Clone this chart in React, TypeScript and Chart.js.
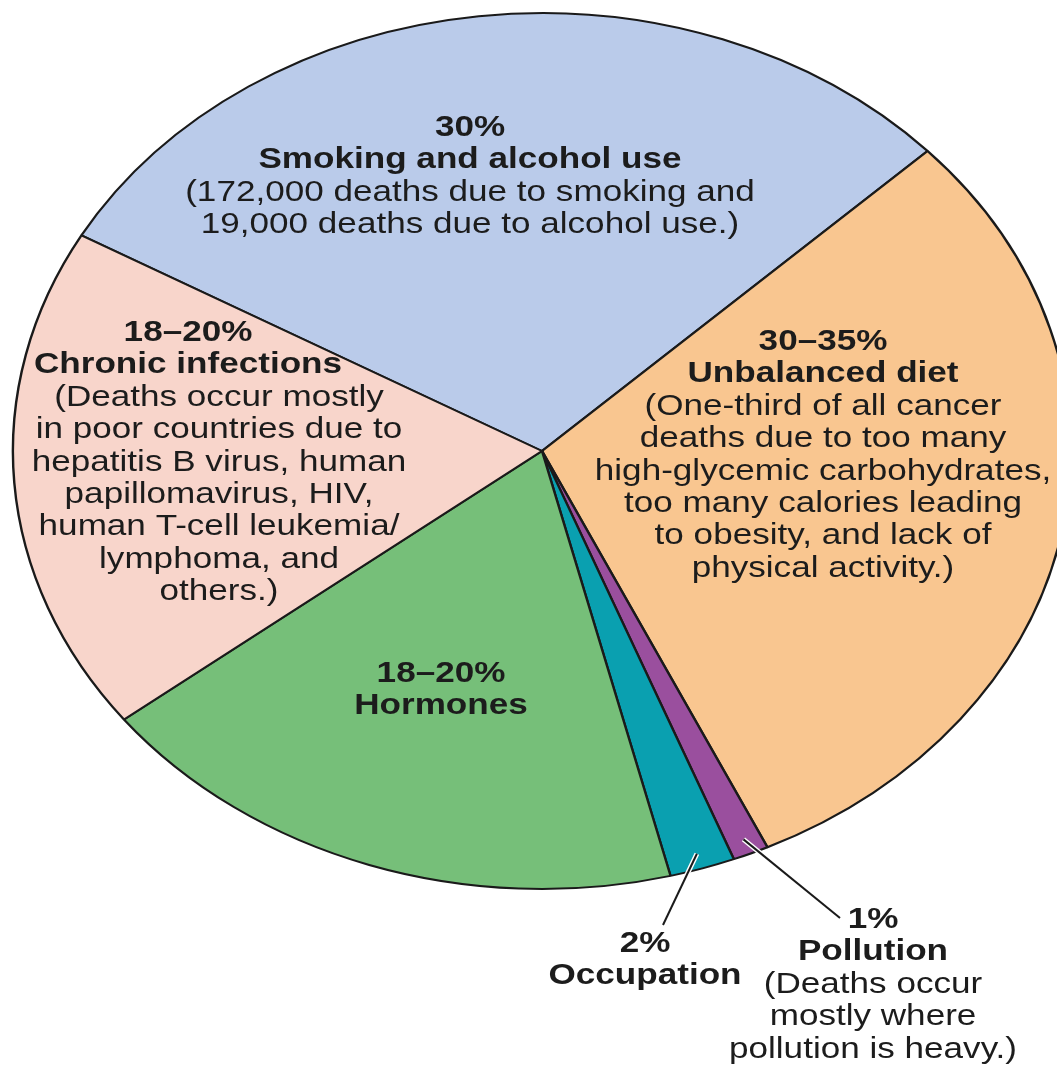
import React, { useEffect, useRef } from 'react';
import { Chart, registerables } from 'chart.js';

Chart.register(...registerables);

// ---- data ----
const categories = [
  'Smoking and alcohol use',
  'Unbalanced diet',
  'Pollution',
  'Occupation',
  'Hormones',
  'Chronic infections',
];
const shares = [29.8, 30, 1.1, 2, 18.4, 18.7];
const percentLabels = ['30%', '30–35%', '1%', '2%', '18–20%', '18–20%'];
const sliceColors = ['#bacbea', '#f9c690', '#9a4f9e', '#0aa0b0', '#76bf79', '#f8d5cb'];
const smokingNote = ['(172,000 deaths due to smoking and', '19,000 deaths due to alcohol use.)'];
const dietNote = [
  '(One-third of all cancer',
  'deaths due to too many',
  'high-glycemic carbohydrates,',
  'too many calories leading',
  'to obesity, and lack of',
  'physical activity.)',
];
const pollutionNote = ['(Deaths occur', 'mostly where', 'pollution is heavy.)'];
const infectionsNote = [
  '(Deaths occur mostly',
  'in poor countries due to',
  'hepatitis B virus, human',
  'papillomavirus, HIV,',
  'human T-cell leukemia/',
  'lymphoma, and',
  'others.)',
];
const notes = [smokingNote, dietNote, pollutionNote, [], [], infectionsNote];

// ---- layout / style ----
const W = 1057;
const H = 1071;
const SX = 1.208; // horizontal stretch of the pie (ellipse)
const TEXT_SX = 1.21;
const FONT_PX = 29;
const LINE_H = 32.4;
const TEXT_COLOR = '#1c1c1c';
const FONT_FAMILY = '"Liberation Sans", Arial, Helvetica, sans-serif';

// label block anchors: bold centre x, note centre x, first baseline y
const labelAnchors = [
  { bx: 470, nx: 470, y: 136 },
  { bx: 823, nx: 823, y: 350 },
  { bx: 873, nx: 873, y: 928 },
  { bx: 645, nx: 645, y: 952 },
  { bx: 441, nx: 441, y: 682 },
  { bx: 188, nx: 219, y: 341 },
];
// leader lines: slice index -> end point
const leaders = [
  { i: 3, ex: 663, ey: 925 },
  { i: 2, ex: 840, ey: 918 },
];

function drawText(ctx: CanvasRenderingContext2D, text: string, x: number, y: number, bold: boolean) {
  ctx.save();
  ctx.translate(x, y);
  ctx.scale(TEXT_SX, 1);
  ctx.font = `${bold ? 'bold ' : ''}${FONT_PX}px ${FONT_FAMILY}`;
  ctx.textAlign = 'center';
  ctx.textBaseline = 'alphabetic';
  ctx.fillStyle = TEXT_COLOR;
  ctx.fillText(text, 0, 0);
  ctx.restore();
}

export default function App() {
  const ref = useRef<HTMLCanvasElement>(null);

  useEffect(() => {
    const canvas = ref.current;
    if (!canvas) return;

    const stretch = {
      id: 'stretch',
      beforeDatasetsDraw(chart: any) {
        const meta = chart.getDatasetMeta(0);
        const cx = meta.data[0].x;
        const ctx = chart.ctx;
        ctx.save();
        ctx.translate(cx, 0);
        ctx.scale(SX, 1);
        ctx.translate(-cx, 0);
      },
      afterDatasetsDraw(chart: any) {
        chart.ctx.restore();
      },
    };

    const labelsPlugin = {
      id: 'labelsPlugin',
      afterDraw(chart: any) {
        const ctx: CanvasRenderingContext2D = chart.ctx;
        const meta = chart.getDatasetMeta(0);
        // leader lines
        leaders.forEach((l) => {
          const arc: any = meta.data[l.i];
          const mid = (arc.startAngle + arc.endAngle) / 2;
          const r = arc.outerRadius * 0.965;
          const sx = arc.x + Math.cos(mid) * r * SX;
          const sy = arc.y + Math.sin(mid) * r;
          ctx.save();
          ctx.lineCap = 'butt';
          ctx.strokeStyle = '#ffffff';
          ctx.lineWidth = 5;
          ctx.beginPath();
          ctx.moveTo(sx, sy);
          ctx.lineTo(l.ex, l.ey);
          ctx.stroke();
          ctx.strokeStyle = '#1a1a1a';
          ctx.lineWidth = 2;
          ctx.beginPath();
          ctx.moveTo(sx, sy);
          ctx.lineTo(l.ex, l.ey);
          ctx.stroke();
          ctx.restore();
        });
        // texts
        categories.forEach((cat, i) => {
          const a = labelAnchors[i];
          let y = a.y;
          drawText(ctx, percentLabels[i], a.bx, y, true);
          y += LINE_H;
          drawText(ctx, cat, a.bx, y, true);
          notes[i].forEach((line) => {
            y += LINE_H;
            drawText(ctx, line, a.nx, y, false);
          });
        });
      },
    };

    const chart = new Chart(canvas, {
      type: 'pie',
      data: {
        labels: categories,
        datasets: [
          {
            data: shares,
            backgroundColor: sliceColors,
            borderColor: '#1a1a1a',
            borderWidth: 2,
          },
        ],
      },
      options: {
        responsive: false,
        animation: false,
        events: [],
        rotation: 299.5,
        layout: { padding: { left: 103, top: 12, right: 76, bottom: 181 } },
        plugins: {
          legend: { display: false },
          tooltip: { enabled: false },
        },
      },
      plugins: [stretch, labelsPlugin],
    } as any);

    return () => chart.destroy();
  }, []);

  return (
    <div style={{ position: 'absolute', left: 0, top: 0, width: W, height: H, background: '#ffffff', overflow: 'hidden' }}>
      <canvas ref={ref} width={W} height={H} style={{ display: 'block' }} />
    </div>
  );
}
